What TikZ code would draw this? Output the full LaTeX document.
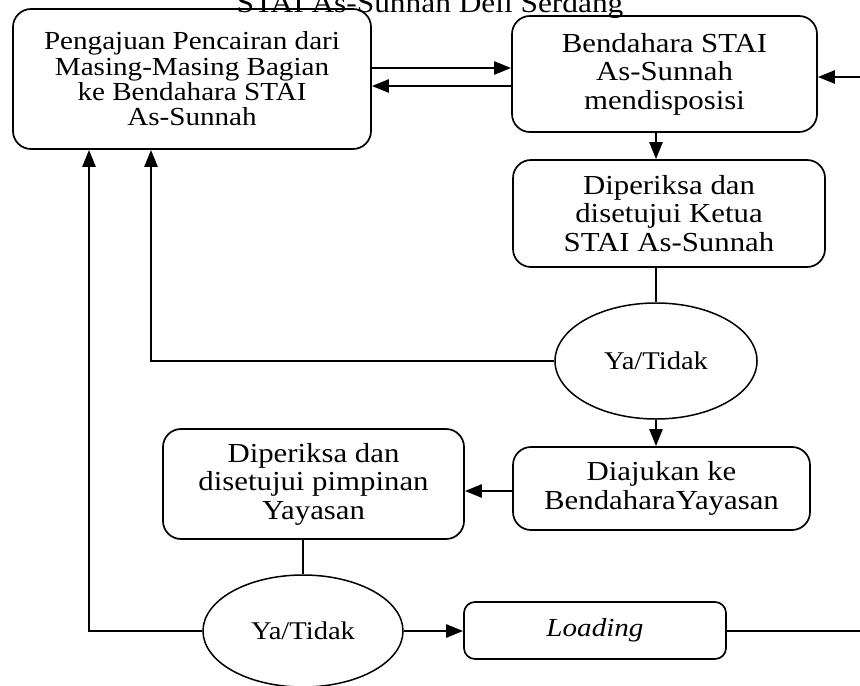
\documentclass[tikz,border=0pt]{standalone}
\usepackage{fontspec}
\setmainfont{Liberation Serif}
\newfontfamily\dfont[FakeStretch=1.12]{Liberation Serif}
\usetikzlibrary{arrows.meta,shapes.geometric}
\tikzset{
  rbox/.style={draw=black, line width=1.7bp, rounded corners=18bp, align=center, inner sep=0pt,
    font=\dfont\fontsize{27.5bp}{28.5bp}\selectfont},
  dec/.style={draw=black, line width=1.5bp, ellipse, inner sep=0pt,
    font=\dfont\fontsize{25.5bp}{28bp}\selectfont},
  arr/.style={line width=2.5bp, -{Triangle[length=17bp,width=13bp]}},
  plain/.style={line width=2.2bp},
  thinline/.style={line width=1.3bp}
}
\begin{document}
\begin{tikzpicture}[x=1bp,y=-1bp]
\useasboundingbox (0,0) rectangle (860,686);
\fill[white] (0,0) rectangle (860,686);
\clip (0,0) rectangle (860,686);

\node[anchor=base, font=\dfont\fontsize{28bp}{30bp}\selectfont] (title) at (430,13) {STAI As-Sunnah Deli Serdang};

\node[rbox, minimum width=358bp, minimum height=140bp, font=\dfont\fontsize{26bp}{25.3bp}\selectfont] (box1) at (192,79)
  {Pengajuan Pencairan dari\\Masing-Masing Bagian\\ke Bendahara STAI\\As-Sunnah};
\node[rbox, minimum width=305bp, minimum height=116bp] (box2) at (664.5,74)
  {Bendahara STAI\\As-Sunnah\\mendisposisi};
\node[rbox, minimum width=312bp, minimum height=107bp] (box3) at (669,213.5)
  {Diperiksa dan\\disetujui Ketua\\STAI As-Sunnah};
\node[dec, minimum width=202bp, minimum height=116bp] (ell1) at (656,361) {Ya/Tidak};
\node[rbox, minimum width=297bp, minimum height=83bp] (box4) at (661.5,488.5)
  {Diajukan ke\\BendaharaYayasan};
\node[rbox, minimum width=301bp, minimum height=110bp] (box5) at (313.5,484)
  {Diperiksa dan\\disetujui pimpinan\\Yayasan};
\node[dec, minimum width=200bp, minimum height=112bp] (ell2) at (303,631) {Ya/Tidak};
\node[rbox, rounded corners=11bp, minimum width=262bp, minimum height=57bp,
  font=\dfont\itshape\fontsize{26bp}{28bp}\selectfont] (load) at (595,630.5)
  {\raisebox{3bp}{Loading}};

\coordinate (r1) at (860,77);
\coordinate (r2) at (860,631);

\draw[arr] (box1.east |- 0,68) -- (box2.west |- 0,68);
\draw[arr] (box2.west |- 0,86) -- (box1.east |- 0,86);
\draw[arr] (r1) -- (box2.east |- r1);
\draw[arr] (box2.south -| 656,0) -- (box3.north -| 656,0);
\draw[thinline] (box3.south -| ell1.north) -- (ell1.north);
\draw[arr] (ell1.west) -| (box1.south -| 151,0);
\draw[arr] (ell1.south) -- (box4.north -| ell1.south);
\draw[arr] (box4.west |- 0,491) -- (box5.east |- 0,491);
\draw[thinline] (box5.south -| ell2.north) -- (ell2.north);
\draw[arr] (ell2.west) -| (box1.south -| 89,0);
\draw[arr] (ell2.east) -- (load.west |- ell2.east);
\draw[plain] (load.east |- r2) -- (r2);
\end{tikzpicture}
\end{document}
